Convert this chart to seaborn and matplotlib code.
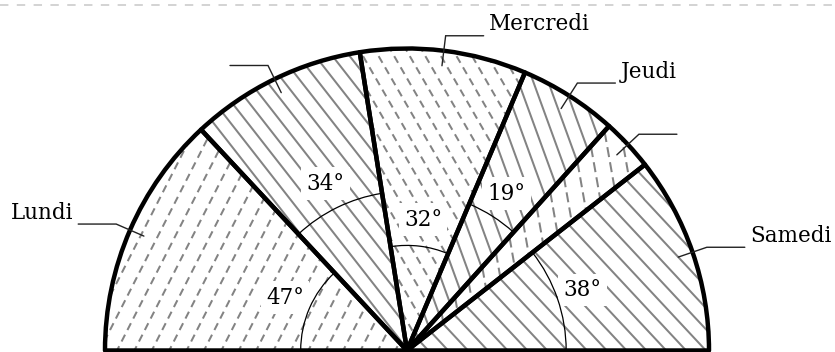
import numpy as np
import matplotlib
matplotlib.use("Agg")
import matplotlib.pyplot as plt
from matplotlib.patches import Wedge, Arc
from matplotlib.collections import LineCollection
import seaborn as sns

# Half-disc diagram: angle of each day's sector, in degrees (total 180)
jours = ["Lundi", "Mardi", "Mercredi", "Jeudi", "Vendredi", "Samedi"]
angles = [47, 34, 32, 19, 10, 38]
noms_affiches = ["Lundi", "", "Mercredi", "Jeudi", "", "Samedi"]
angle_affiche = [True, True, True, True, False, True]

sns.set_theme(style="white")
plt.rcParams["font.family"] = ["DejaVu Serif"]

W, H = 835, 352
R_PX = 302.0
CX, CY = 407.0, 350.5          # centre of the half-disc, pixels from top-left
FS = 15.5

fig = plt.figure(figsize=(W / 100, H / 100), dpi=100)
ax = fig.add_axes([0, 0, 1, 1])
ax.set_xlim(-CX / R_PX, (W - CX) / R_PX)
ax.set_ylim((CY - H) / R_PX, CY / R_PX)
ax.axis("off")

gris = sns.color_palette(["#838383"])[0]

# hatch style per sector: (direction in degrees, spacing in px, dash pattern or None)
hachures = [
    (63, 15.5, (3.8, 2.6)),
    (128, 13.5, None),
    (120, 13.5, (3.8, 2.6)),
    (110, 14.0, None),
    (100, 16.0, (5.0, 2.6)),
    (133, 14.5, None),
]
# radius of the angle-marking arc for each sector
rayons_arc = [0.352, 0.527, 0.348, 0.527, 0.527, 0.527]


def lignes_paralleles(direction, pas_px):
    a = np.deg2rad(direction)
    u = np.array([np.cos(a), np.sin(a)])
    n = np.array([-np.sin(a), np.cos(a)])
    pas = pas_px / R_PX
    segs = []
    for t in np.arange(-1.3, 1.3, pas):
        p0 = t * n - 1.4 * u
        p1 = t * n + 1.4 * u
        segs.append([p0, p1])
    return segs


debut = 180.0
for i, (nom, a) in enumerate(zip(jours, angles)):
    t2 = debut
    t1 = debut - a
    debut = t1
    mid = np.deg2rad((t1 + t2) / 2)
    c, s = np.cos(mid), np.sin(mid)

    fond = Wedge((0, 0), 1, t1, t2, facecolor="white", edgecolor="none", zorder=1)
    ax.add_patch(fond)

    direction, pas_px, tirets = hachures[i]
    ls = "solid" if tirets is None else (0, tirets)
    lc = LineCollection(lignes_paralleles(direction, pas_px), colors=[gris],
                        linewidths=1.45, linestyles=[ls], zorder=2)
    lc.set_clip_path(fond)
    ax.add_collection(lc)

    ax.add_patch(Wedge((0, 0), 1, t1, t2, fill=False, edgecolor="black",
                       lw=3.2, joinstyle="round", zorder=6))

    if angle_affiche[i]:
        r = rayons_arc[i]
        ax.add_patch(Arc((0, 0), 2 * r, 2 * r, theta1=t1, theta2=t2,
                         color="black", lw=0.9, zorder=5))
        rl = r + 0.088
        ax.text(rl * c, rl * s, f"{a}°", ha="center", va="center", fontsize=FS,
                color="black", zorder=4,
                bbox=dict(boxstyle="square,pad=0.25", fc="white", ec="none"))

    # leader line: radial tick across the rim, then a horizontal run outward
    signe = 1 if c > 0 else -1
    p_in = (0.95 * c, 0.95 * s)
    p_coude = (1.05 * c, 1.05 * s)
    p_fin = (p_coude[0] + signe * 38 / R_PX, p_coude[1])
    ax.plot([p_in[0], p_coude[0], p_fin[0]], [p_in[1], p_coude[1], p_fin[1]],
            color="#222222", lw=1.0, zorder=7, solid_joinstyle="miter")
    if noms_affiches[i]:
        ax.annotate(noms_affiches[i], xy=p_fin, xytext=(signe * 3.8, 3.8),
                    textcoords="offset points", fontsize=FS, color="black",
                    ha="left" if signe > 0 else "right", va="baseline", zorder=7)

# light dashed rule along the top edge
ax.plot([0, 1], [1 - 5 / H, 1 - 5 / H], transform=ax.transAxes,
        color="#c8c8c8", lw=1.1, linestyle=(0, (5.5, 5.5)), zorder=0)

fig.savefig("out.png", dpi=100)
